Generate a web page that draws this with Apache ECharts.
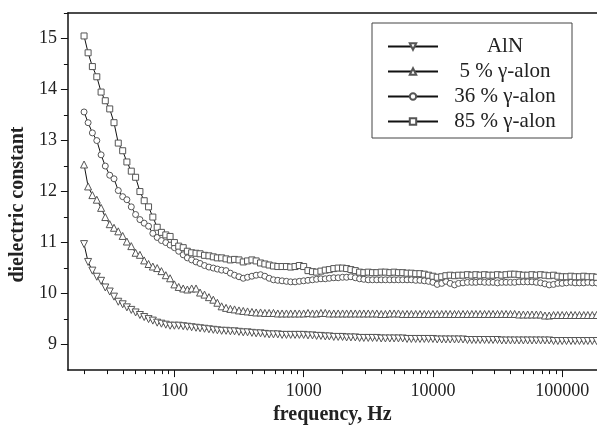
<!DOCTYPE html>
<html>
<head>
<meta charset="utf-8">
<script src="https://cdn.jsdelivr.net/npm/echarts@6/dist/echarts.min.js"></script>
<style>
  html, body { margin: 0; padding: 0; background: #fff; }
  #chart { width: 597px; height: 430px; }
</style>
</head>
<body>
<div id="chart"></div>
<script>
// frequencies (Hz), shared by all four samples
var freqs = [
  20, 21.5, 23.2, 25.1, 27.1, 29.2, 31.6, 34.1, 36.8, 39.8, 42.9, 46.4, 50.1, 54.1, 58.4, 63.1, 68.1, 73.6, 79.4, 85.8, 92.6,
  100, 108, 117, 126, 136, 147, 158, 171, 185, 200, 215, 232, 251, 271, 292, 316, 341, 368, 398, 429, 464, 501, 541, 584, 631, 681, 736, 794, 858, 926,
  1000, 1080, 1170, 1260, 1360, 1470, 1580, 1710, 1850, 2000, 2150, 2320, 2510, 2710, 2920, 3160, 3410, 3680, 3980, 4290, 4640, 5010, 5410, 5840, 6310, 6810, 7360, 7940, 8580, 9260,
  10000, 10800, 11700, 12600, 13600, 14700, 15800, 17100, 18500, 20000, 21500, 23200, 25100, 27100, 29200, 31600, 34100, 36800, 39800, 42900, 46400, 50100, 54100, 58400, 63100, 68100, 73600, 79400, 85800, 92600,
  100000, 108000, 117000, 126000, 136000, 147000, 158000, 171000, 185000
];

var alnValues = [
  10.97, 10.62, 10.45, 10.33, 10.25, 10.12, 10.04, 9.94, 9.84, 9.79, 9.73, 9.68, 9.63, 9.58, 9.54, 9.50, 9.47, 9.43, 9.41, 9.39, 9.37,
  9.37, 9.37, 9.36, 9.35, 9.34, 9.33, 9.32, 9.31, 9.30, 9.29, 9.28, 9.27, 9.27, 9.26, 9.26, 9.25, 9.24, 9.24, 9.23, 9.22, 9.22, 9.21, 9.20, 9.20, 9.20, 9.19, 9.19, 9.19, 9.19, 9.19,
  9.19, 9.18, 9.18, 9.17, 9.17, 9.16, 9.16, 9.15, 9.15, 9.15, 9.14, 9.14, 9.14, 9.13, 9.13, 9.13, 9.13, 9.13, 9.12, 9.12, 9.12, 9.12, 9.12, 9.12, 9.11, 9.11, 9.11, 9.11, 9.11, 9.11,
  9.11, 9.10, 9.10, 9.10, 9.10, 9.10, 9.10, 9.10, 9.09, 9.09, 9.09, 9.09, 9.09, 9.09, 9.09, 9.09, 9.08, 9.08, 9.08, 9.08, 9.08, 9.08, 9.08, 9.08, 9.08, 9.08, 9.08, 9.08, 9.07, 9.07,
  9.07, 9.07, 9.07, 9.07, 9.07, 9.07, 9.07, 9.07, 9.07
];

var alon5Values = [
  12.53, 12.10, 11.93, 11.84, 11.68, 11.50, 11.36, 11.29, 11.22, 11.13, 11.02, 10.93, 10.80, 10.76, 10.65, 10.58, 10.53, 10.50, 10.44, 10.36, 10.30,
  10.18, 10.13, 10.10, 10.08, 10.10, 10.10, 10.02, 9.98, 9.93, 9.88, 9.82, 9.75, 9.72, 9.70, 9.69, 9.67, 9.66, 9.65, 9.64, 9.63, 9.63, 9.62, 9.62, 9.62, 9.61, 9.61, 9.61, 9.61, 9.61, 9.61,
  9.61, 9.62, 9.61, 9.61, 9.62, 9.62, 9.61, 9.61, 9.61, 9.61, 9.61, 9.61, 9.61, 9.61, 9.61, 9.61, 9.61, 9.61, 9.60, 9.60, 9.61, 9.61, 9.61, 9.60, 9.60, 9.60, 9.60, 9.60, 9.60, 9.60,
  9.60, 9.60, 9.60, 9.60, 9.60, 9.60, 9.60, 9.60, 9.60, 9.60, 9.60, 9.60, 9.60, 9.60, 9.60, 9.60, 9.60, 9.60, 9.60, 9.60, 9.59, 9.59, 9.59, 9.59, 9.59, 9.59, 9.57, 9.57, 9.58, 9.58,
  9.58, 9.58, 9.58, 9.58, 9.58, 9.58, 9.58, 9.58, 9.58
];

var alon36Values = [
  13.56, 13.35, 13.15, 13.00, 12.72, 12.50, 12.32, 12.25, 12.02, 11.90, 11.84, 11.70, 11.55, 11.45, 11.38, 11.32, 11.18, 11.10, 11.04, 11.00, 10.95,
  10.90, 10.83, 10.76, 10.70, 10.66, 10.62, 10.59, 10.55, 10.52, 10.50, 10.48, 10.46, 10.45, 10.40, 10.36, 10.33, 10.30, 10.32, 10.34, 10.36, 10.37, 10.34, 10.30, 10.27, 10.26, 10.25, 10.24, 10.23, 10.23, 10.24,
  10.25, 10.26, 10.27, 10.28, 10.29, 10.29, 10.30, 10.31, 10.31, 10.32, 10.32, 10.33, 10.31, 10.29, 10.28, 10.27, 10.27, 10.27, 10.27, 10.27, 10.27, 10.27, 10.27, 10.27, 10.27, 10.27, 10.26, 10.26, 10.25, 10.24,
  10.22, 10.18, 10.20, 10.24, 10.20, 10.17, 10.20, 10.21, 10.22, 10.22, 10.22, 10.23, 10.22, 10.22, 10.22, 10.21, 10.22, 10.22, 10.22, 10.22, 10.23, 10.23, 10.23, 10.23, 10.22, 10.21, 10.19, 10.17, 10.18, 10.20,
  10.20, 10.21, 10.22, 10.21, 10.21, 10.21, 10.22, 10.21, 10.21
];

var alon85Values = [
  15.05, 14.72, 14.45, 14.25, 13.95, 13.78, 13.62, 13.35, 12.95, 12.80, 12.58, 12.40, 12.28, 12.00, 11.82, 11.70, 11.50, 11.30, 11.20, 11.15, 11.12,
  11.00, 10.93, 10.90, 10.83, 10.80, 10.79, 10.78, 10.75, 10.74, 10.72, 10.70, 10.70, 10.68, 10.66, 10.67, 10.66, 10.62, 10.64, 10.66, 10.64, 10.60, 10.58, 10.56, 10.54, 10.53, 10.53, 10.53, 10.52, 10.53, 10.55,
  10.53, 10.45, 10.43, 10.42, 10.44, 10.46, 10.47, 10.49, 10.50, 10.50, 10.49, 10.47, 10.45, 10.42, 10.41, 10.42, 10.41, 10.41, 10.42, 10.42, 10.41, 10.42, 10.41, 10.41, 10.40, 10.40, 10.39, 10.39, 10.38, 10.36,
  10.34, 10.32, 10.33, 10.35, 10.36, 10.35, 10.36, 10.36, 10.37, 10.36, 10.37, 10.36, 10.37, 10.36, 10.36, 10.37, 10.36, 10.37, 10.38, 10.38, 10.37, 10.36, 10.36, 10.37, 10.36, 10.37, 10.36, 10.35, 10.36, 10.34,
  10.33, 10.33, 10.34, 10.33, 10.33, 10.34, 10.33, 10.33, 10.32
];

var seriesNames = ['AlN', '5 % γ-alon', '36 % γ-alon', '85 % γ-alon'];

// tick marks
var xMajorTicks = [100, 1000, 10000, 100000];
var xMinorTicks = [20, 30, 40, 50, 60, 70, 80, 90, 200, 300, 400, 500, 600, 700, 800, 900,
  2000, 3000, 4000, 5000, 6000, 7000, 8000, 9000, 20000, 30000, 40000, 50000, 60000, 70000, 80000, 90000];
var yMajorTicks = [9, 10, 11, 12, 13, 14, 15];
var yMinorTicks = [9.5, 10.5, 11.5, 12.5, 13.5, 14.5, 15.5];

var font = 'Liberation Serif, Times New Roman, serif';
var xMin = 15, xMax = 186000, yMin = 8.5, yMax = 15.5;

function pairs(vals) {
  return freqs.map(function (f, i) { return [f, vals[i]]; });
}

function makeSeries(name, vals, symbol, rotate) {
  return {
    name: name,
    type: 'line',
    data: pairs(vals),
    symbol: symbol,
    symbolSize: symbol === 'triangle' ? 7 : 6,
    symbolRotate: rotate,
    lineStyle: { color: '#111', width: 1 },
    itemStyle: { color: '#fff', borderColor: '#555', borderWidth: 1 },
    emphasis: { disabled: true }
  };
}

var myChart = echarts.init(document.getElementById('chart'));
myChart.setOption({
  animation: false,
  backgroundColor: '#fff',
  textStyle: { fontFamily: font },
  grid: { left: 64, right: 0, top: 13, bottom: 51, containLabel: false },
  legend: {
    orient: 'vertical',
    left: 372,
    top: 23,
    padding: [13, 5, 6, 15],
    itemGap: 4,
    itemWidth: 50,
    itemHeight: 8,
    borderColor: '#444',
    borderWidth: 1,
    data: seriesNames,
    formatter: '{t|{name}}',
    textStyle: {
      rich: {
        t: { width: 124, align: 'center', fontSize: 21, lineHeight: 22, color: '#222', fontFamily: font }
      }
    }
  },
  xAxis: [
    {
      type: 'log',
      min: xMin,
      max: xMax,
      name: 'frequency, Hz',
      nameLocation: 'middle',
      nameGap: 33,
      nameTextStyle: { fontSize: 20, fontWeight: 'bold', color: '#222', fontFamily: font },
      axisLine: { lineStyle: { color: '#111', width: 1.5 } },
      axisTick: { length: 7, customValues: xMajorTicks, lineStyle: { color: '#111' } },
      axisLabel: {
        customValues: xMajorTicks, fontSize: 18, color: '#222', margin: 12, fontFamily: font,
        formatter: function (v) { return String(Math.round(v)); }
      },
      splitLine: { show: false }
    },
    {
      type: 'log',
      min: xMin,
      max: xMax,
      position: 'bottom',
      axisLine: { show: false },
      axisTick: { length: 4, customValues: xMinorTicks, lineStyle: { color: '#111' } },
      axisLabel: { show: false },
      splitLine: { show: false }
    },
    {
      type: 'log',
      min: xMin,
      max: xMax,
      position: 'top',
      axisLine: { lineStyle: { color: '#111', width: 1.5 } },
      axisTick: { show: false },
      axisLabel: { show: false },
      splitLine: { show: false }
    }
  ],
  yAxis: [
    {
      type: 'value',
      min: yMin,
      max: yMax,
      name: 'dielectric constant',
      nameLocation: 'middle',
      nameGap: 36,
      nameTextStyle: { fontSize: 20, fontWeight: 'bold', color: '#222', fontFamily: font, padding: [0, 26, 0, 0] },
      axisLine: { show: true, lineStyle: { color: '#111', width: 1.5 } },
      axisTick: { show: true, length: 7, customValues: yMajorTicks, lineStyle: { color: '#111' } },
      axisLabel: { customValues: yMajorTicks, fontSize: 18, color: '#222', margin: 11, fontFamily: font },
      splitLine: { show: false }
    },
    {
      type: 'value',
      min: yMin,
      max: yMax,
      position: 'left',
      axisLine: { show: false },
      axisTick: { show: true, length: 4, customValues: yMinorTicks, lineStyle: { color: '#111' } },
      axisLabel: { show: false },
      splitLine: { show: false }
    }
  ],
  series: [
    makeSeries(seriesNames[0], alnValues, 'triangle', 180),
    makeSeries(seriesNames[1], alon5Values, 'triangle', 0),
    makeSeries(seriesNames[2], alon36Values, 'circle', 0),
    makeSeries(seriesNames[3], alon85Values, 'rect', 0)
  ]
});
</script>
</body>
</html>
